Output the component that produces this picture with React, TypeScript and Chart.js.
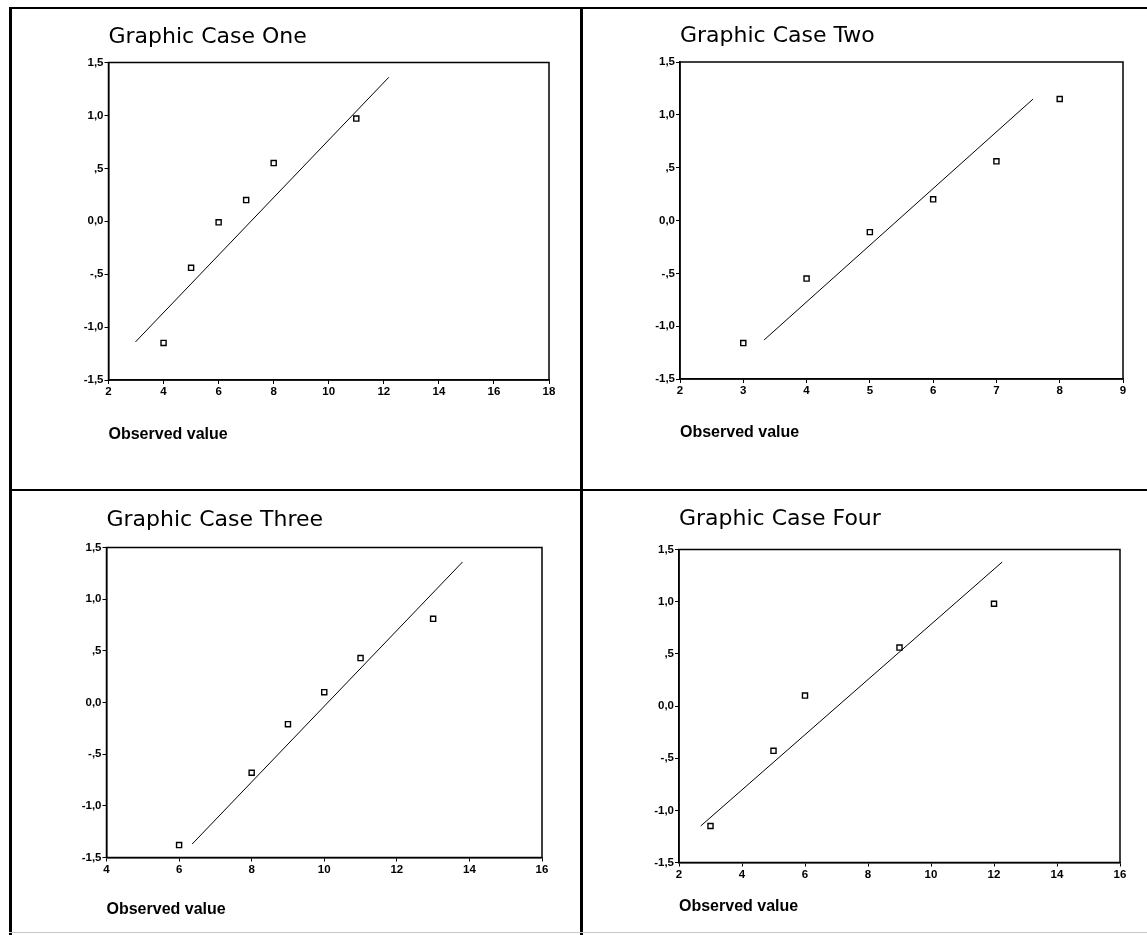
import React, { useEffect, useRef } from "react";
import { Chart, registerables } from "chart.js";

Chart.register(...registerables);

// ---------- data ----------
const TITLES = ["Graphic Case One", "Graphic Case Two", "Graphic Case Three", "Graphic Case Four"];
const X_AXIS_TITLE = "Observed value";

const Y_TICK_VALUES = [-1.5, -1.0, -0.5, 0, 0.5, 1.0, 1.5];
const Y_TICK_LABELS = ["-1,5", "-1,0", "-,5", "0,0", ",5", "1,0", "1,5"];

const P1_X = [4, 5, 6, 7, 8, 11];
const P1_Y = [-1.15, -0.44, -0.01, 0.2, 0.55, 0.97];
const P1_LINE_X = [2.98, 12.18];
const P1_LINE_Y = [-1.14, 1.36];

const P2_X = [3, 4, 5, 6, 7, 8];
const P2_Y = [-1.16, -0.55, -0.11, 0.2, 0.56, 1.15];
const P2_LINE_X = [3.33, 7.58];
const P2_LINE_Y = [-1.13, 1.15];

const P3_X = [6, 8, 9, 10, 11, 13];
const P3_Y = [-1.38, -0.68, -0.21, 0.1, 0.43, 0.81];
const P3_LINE_X = [6.36, 13.81];
const P3_LINE_Y = [-1.37, 1.36];

const P4_X = [3, 5, 6, 9, 12];
const P4_Y = [-1.15, -0.43, 0.1, 0.56, 0.98];
const P4_LINE_X = [2.69, 12.26];
const P4_LINE_Y = [-1.15, 1.38];

const X_MIN = [2, 2, 4, 2];
const X_MAX = [18, 9, 16, 16];
const X_STEP = [2, 1, 2, 2];

const SERIES = [
  { x: P1_X, y: P1_Y, lx: P1_LINE_X, ly: P1_LINE_Y },
  { x: P2_X, y: P2_Y, lx: P2_LINE_X, ly: P2_LINE_Y },
  { x: P3_X, y: P3_Y, lx: P3_LINE_X, ly: P3_LINE_Y },
  { x: P4_X, y: P4_Y, lx: P4_LINE_X, ly: P4_LINE_Y },
];

// ---------- layout (page pixel geometry) ----------
type Geo = {
  cx: number; cy: number; w: number; h: number;
  L: number; R: number; T: number; B: number;
  titleBase: number; obsCenter: number;
};
const GEOS: Geo[] = [
  { cx: 12, cy: 10, w: 568, h: 479, L: 108.5, R: 549, T: 62.5, B: 380, titleBase: 45, obsCenter: 434.5 },
  { cx: 583, cy: 10, w: 564, h: 479, L: 680, R: 1123, T: 62, B: 379, titleBase: 43.5, obsCenter: 433 },
  { cx: 12, cy: 492, w: 568, h: 443, L: 106.5, R: 542, T: 547.5, B: 857.5, titleBase: 528, obsCenter: 910 },
  { cx: 583, cy: 492, w: 564, h: 443, L: 679, R: 1120, T: 549.5, B: 862.5, titleBase: 527, obsCenter: 907 },
];

const TITLE_SIZE = 22;
const TITLE_LH = 1.2;
const AX_TITLE_SIZE = 16;
const AX_LH = 1.2;
const TICK_SIZE = 11.5;
const Y_AXIS_W = 40;

const boxPlugin = {
  id: "plotBox",
  afterDatasetsDraw(chart: any) {
    const { ctx, chartArea } = chart;
    const { left, top, right, bottom } = chartArea;
    ctx.save();
    ctx.strokeStyle = "#000";
    ctx.lineWidth = 1.5;
    ctx.strokeRect(left, top, right - left, bottom - top);
    ctx.restore();
  },
};

function Panel({ idx }: { idx: number }) {
  const ref = useRef<HTMLCanvasElement>(null);
  const g = GEOS[idx];

  useEffect(() => {
    if (!ref.current) return;
    const s = SERIES[idx];
    const titleLh = TITLE_SIZE * TITLE_LH;
    const middle = g.titleBase - 0.346 * TITLE_SIZE;
    const pt = middle - g.cy - titleLh / 2;
    const pb = g.T - (g.cy + pt + titleLh);
    const axLh = AX_TITLE_SIZE * AX_LH;
    const axisBottom = g.obsCenter + axLh / 2;
    const axisH = axisBottom - g.B;
    const tickFont = { family: "'Liberation Sans', Arial, sans-serif", size: TICK_SIZE, weight: "bold", lineHeight: 1.2 };

    const chart = new Chart(ref.current, {
      type: "scatter",
      data: {
        datasets: [
          {
            type: "line",
            data: s.lx.map((v, i) => ({ x: v, y: s.ly[i] })),
            borderColor: "#000",
            borderWidth: 1,
            pointRadius: 0,
            fill: false,
            tension: 0,
          } as any,
          {
            type: "scatter",
            data: s.x.map((v, i) => ({ x: v, y: s.y[i] })),
            pointStyle: "rect",
            pointRadius: 3.6,
            pointBorderWidth: 1.4,
            borderColor: "#000",
            backgroundColor: "#fff",
          } as any,
        ],
      },
      options: {
        animation: false,
        responsive: false,
        maintainAspectRatio: false,
        color: "#000",
        layout: {
          padding: {
            left: g.L - g.cx - Y_AXIS_W,
            right: g.cx + g.w - g.R,
            top: 0,
            bottom: g.cy + g.h - axisBottom,
          },
        },
        plugins: {
          legend: { display: false },
          tooltip: { enabled: false },
          title: {
            display: true,
            text: TITLES[idx],
            align: "start",
            fullSize: false,
            color: "#000",
            padding: { top: pt, bottom: pb },
            font: { family: "'DejaVu Sans', sans-serif", size: TITLE_SIZE, weight: "normal", lineHeight: TITLE_LH },
          },
        },
        scales: {
          x: {
            type: "linear",
            position: "bottom",
            min: X_MIN[idx],
            max: X_MAX[idx],
            afterFit: (sc: any) => { sc.height = axisH; },
            ticks: {
              stepSize: X_STEP[idx],
              color: "#000",
              padding: 1,
              maxRotation: 0,
              autoSkip: false,
              font: tickFont,
            },
            grid: { display: true, drawOnChartArea: false, drawTicks: true, tickLength: 4, color: "#000", lineWidth: 1 },
            border: { display: true, color: "#000", width: 1.5 },
            title: {
              display: true,
              text: X_AXIS_TITLE,
              align: "start",
              color: "#000",
              padding: 0,
              font: { family: "'Liberation Sans', Arial, sans-serif", size: AX_TITLE_SIZE, weight: "bold", lineHeight: AX_LH },
            },
          },
          y: {
            type: "linear",
            min: -1.5,
            max: 1.5,
            afterFit: (sc: any) => { sc.width = Y_AXIS_W; },
            ticks: {
              stepSize: 0.5,
              color: "#000",
              padding: 1,
              autoSkip: false,
              font: tickFont,
              callback: (v: any) => {
                const k = Y_TICK_VALUES.findIndex((t) => Math.abs(t - Number(v)) < 1e-6);
                return k >= 0 ? Y_TICK_LABELS[k] : "";
              },
            },
            grid: { display: true, drawOnChartArea: false, drawTicks: true, tickLength: 4, color: "#000", lineWidth: 1 },
            border: { display: true, color: "#000", width: 1.5 },
          },
        },
      } as any,
      plugins: [boxPlugin],
    });
    return () => chart.destroy();
  }, [idx]);

  return (
    <canvas
      ref={ref}
      width={g.w}
      height={g.h}
      style={{ position: "absolute", left: g.cx, top: g.cy, width: g.w, height: g.h }}
    />
  );
}

export default function App() {
  const line = (s: React.CSSProperties) => (
    <div style={{ position: "absolute", background: "#000", ...s }} />
  );
  return (
    <div
      style={{
        position: "fixed",
        left: 0,
        top: 0,
        width: 1147,
        height: 935,
        overflow: "hidden",
        background: "#fff",
      }}
    >
      {[0, 1, 2, 3].map((i) => (
        <Panel key={i} idx={i} />
      ))}
      {line({ left: 9, top: 7, width: 1200, height: 2 })}
      {line({ left: 9, top: 7, width: 3, height: 1000 })}
      {line({ left: 580, top: 7, width: 3, height: 1000 })}
      {line({ left: 9, top: 489, width: 1200, height: 2 })}
      {line({ left: 9, top: 932, width: 1200, height: 1, background: "#c8c8c8" })}
    </div>
  );
}
